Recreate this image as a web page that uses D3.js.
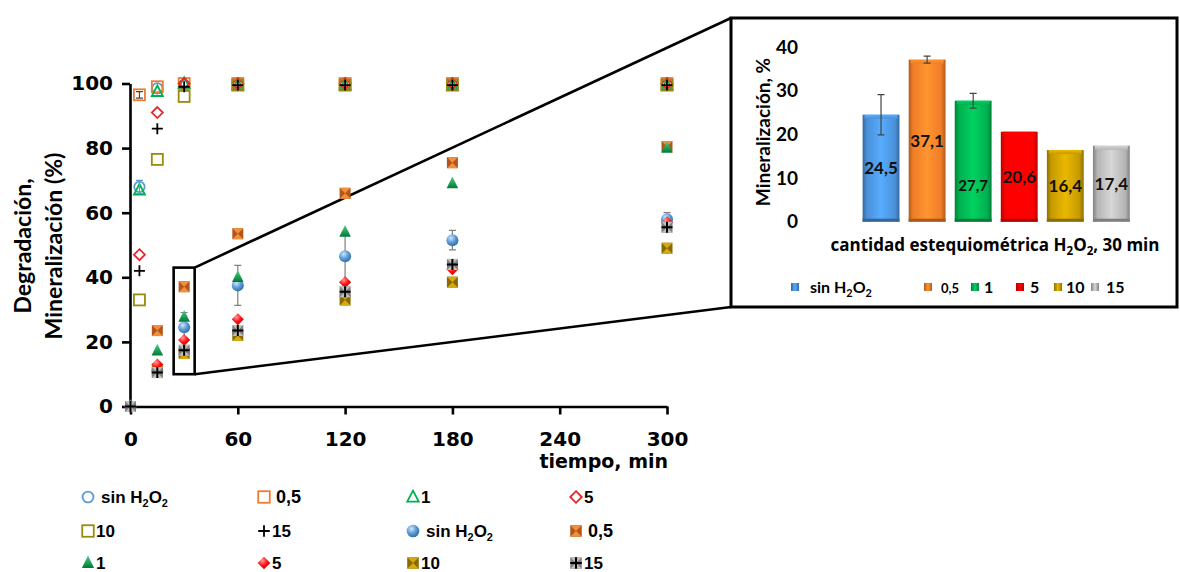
<!DOCTYPE html>
<html><head><meta charset="utf-8">
<script src="https://cdn.jsdelivr.net/npm/d3@7"></script>
<style>body{margin:0;background:#fff}svg{display:block}</style>
</head><body>
<svg id="c" width="1180" height="572"></svg>
<script>
// ---------- DATA ----------
const degTimes = [0, 5, 15, 30, 60, 120, 180, 300];
const degSin = [0, 68, 98.5, 99.5, 100, 100, 100, 100];
const degSinErr = [0, 2, 0, 0, 0, 0, 0, 0];
const deg05 = [0, 96.5, 99, 100, 100, 100, 100, 100];
const deg05Err = [0, 1, 0, 0, 0, 0, 0, 0];
const deg1 = [0, 67, 97.5, 100, 99.5, 99.5, 99.5, 99.5];
const deg5 = [0, 47, 91, 100, 100, 100, 100, 100];
const deg10 = [0, 33, 76.5, 96, 99.5, 99.5, 99.5, 99.5];
const deg15 = [0, 42, 86, 99, 99.5, 99.5, 99.5, 99.5];

const minTimes = [0, 15, 30, 60, 120, 180, 300];
const minSin = [0, 11, 24.5, 37.5, 46.5, 51.5, 58];
const minSinErr = [0, 0, 4.6, 6.2, 7.5, 3, 2];
const min05 = [0, 23.5, 37.1, 53.5, 66, 75.5, 80.5];
const min1 = [0, 17.2, 27.7, 40, 54, 69, 80];
const min5 = [0, 13, 20.6, 27, 38.5, 42.5, 57];
const min10 = [0, 11, 16.4, 22, 33, 38.5, 49];
const min15 = [0, 10.5, 17.4, 23.5, 35.5, 44, 55.5];

const xTicks = [0, 60, 120, 180, 240, 300];
const yTicks = [0, 20, 40, 60, 80, 100];

const barCats = ["sin H2O2", "0,5", "1", "5", "10", "15"];
const barVals = [24.5, 37.1, 27.7, 20.6, 16.4, 17.4];
const barErr = [4.6, 0.8, 1.7, 0, 0, 0];
const barTicks = [0, 10, 20, 30, 40];
const zoomTime = 30;
const zoomRange = [10, 43];

// ---------- SETUP ----------
const svg = d3.select("#c");
const defs = svg.append("defs");
const TICKF = "'DejaVu Sans', sans-serif";

function radial(id, c0, c1, c2) {
  const g = defs.append("radialGradient").attr("id", id).attr("cx", "38%").attr("cy", "32%").attr("r", "70%");
  g.append("stop").attr("offset", "0%").attr("stop-color", c0);
  g.append("stop").attr("offset", "55%").attr("stop-color", c1);
  g.append("stop").attr("offset", "100%").attr("stop-color", c2);
}
function linear(id, stops, horiz) {
  const g = defs.append("linearGradient").attr("id", id)
    .attr("x1", 0).attr("y1", 0).attr("x2", horiz ? 1 : 0).attr("y2", horiz ? 0 : 1);
  stops.forEach(s => g.append("stop").attr("offset", s[0]).attr("stop-color", s[1]));
}
radial("gSphere", "#cfe6fb", "#5b9bd5", "#2f6ea8");
linear("gTri", [["0%", "#4fd08a"], ["100%", "#007a33"]]);
radial("gDia", "#ff9a9a", "#ff1010", "#c00000");

const markerColors = {
  orange: ["#b3561a", "#f0903f"],
  gold: ["#8a6a00", "#d4aa10"],
  gray: ["#7f7f7f", "#c0c0c0"]
};

function drawMarker(g, type, cx, cy, s) {
  s = s || 1;
  const h = 5.5 * s;
  switch (type) {
    case "oCircle":
      g.append("circle").attr("cx", cx).attr("cy", cy).attr("r", 5.2 * s)
        .attr("fill", "none").attr("stroke", "#5b9bd5").attr("stroke-width", 1.8); break;
    case "oSq05":
    case "oSq10":
      g.append("rect").attr("x", cx - h).attr("y", cy - h).attr("width", 2 * h).attr("height", 2 * h)
        .attr("fill", "none").attr("stroke", type === "oSq05" ? "#ed7d31" : "#9a8a10").attr("stroke-width", 1.8); break;
    case "oTri":
      g.append("path").attr("d", `M${cx},${cy - h * 1.1}L${cx + h},${cy + h * 0.8}L${cx - h},${cy + h * 0.8}Z`)
        .attr("fill", "none").attr("stroke", "#00b050").attr("stroke-width", 1.8); break;
    case "oDia":
      g.append("path").attr("d", `M${cx},${cy - h}L${cx + h},${cy}L${cx},${cy + h}L${cx - h},${cy}Z`)
        .attr("fill", "none").attr("stroke", "#e8262c").attr("stroke-width", 1.8); break;
    case "plus":
      g.append("path").attr("d", `M${cx - h},${cy}H${cx + h}M${cx},${cy - h}V${cy + h}`)
        .attr("stroke", "#000").attr("stroke-width", 1.8); break;
    case "fSphere":
      g.append("circle").attr("cx", cx).attr("cy", cy).attr("r", 6 * s).attr("fill", "url(#gSphere)"); break;
    case "fTri":
      g.append("path").attr("d", `M${cx},${cy - h * 1.3}L${cx + h * 1.05},${cy + h * 0.85}L${cx - h * 1.05},${cy + h * 0.85}Z`)
        .attr("fill", "url(#gTri)"); break;
    case "fDia":
      g.append("path").attr("d", `M${cx},${cy - h * 1.1}L${cx + h * 1.1},${cy}L${cx},${cy + h * 1.1}L${cx - h * 1.1},${cy}Z`)
        .attr("fill", "url(#gDia)"); break;
    case "fSq05":
    case "fSq10":
    case "fSq15": {
      const c = markerColors[type === "fSq05" ? "orange" : type === "fSq10" ? "gold" : "gray"];
      g.append("rect").attr("x", cx - h).attr("y", cy - h).attr("width", 2 * h).attr("height", 2 * h).attr("fill", c[0]);
      g.append("path").attr("d", `M${cx - h},${cy - h}L${cx + h},${cy - h}L${cx},${cy}Z M${cx - h},${cy + h}L${cx + h},${cy + h}L${cx},${cy}Z`)
        .attr("fill", c[1]);
      if (type === "fSq15")
        g.append("path").attr("d", `M${cx - h},${cy}H${cx + h}M${cx},${cy - h}V${cy + h}`)
          .attr("stroke", "#000").attr("stroke-width", 2);
      break;
    }
  }
}

function subText(sel, str, baseSize) {
  const m = str.match(/(H)2(O)2/);
  if (!m) { sel.text(str); return sel; }
  const pre = str.slice(0, m.index), post = str.slice(m.index + m[0].length);
  const small = baseSize * 0.68;
  sel.append("tspan").text(pre + "H");
  sel.append("tspan").attr("font-size", small).attr("dy", baseSize * 0.25).text("2");
  sel.append("tspan").attr("dy", -baseSize * 0.25).text("O");
  sel.append("tspan").attr("font-size", small).attr("dy", baseSize * 0.25).text("2");
  sel.append("tspan").attr("dy", -baseSize * 0.25).text(post);
  return sel;
}

// ---------- MAIN CHART ----------
const x = d3.scaleLinear().domain([0, 300]).range([130.5, 667]);
const y = d3.scaleLinear().domain([0, 100]).range([406.5, 83.5]);

const main = svg.append("g");

const bx0 = x(zoomTime) - 10.5, bx1 = x(zoomTime) + 10.5;
const by0 = y(zoomRange[1]), by1 = y(zoomRange[0]);
const insetX = 731, insetY = 18, insetW = 446, insetH = 289;
main.append("line").attr("x1", bx1).attr("y1", by0).attr("x2", insetX).attr("y2", insetY)
  .attr("stroke", "#000").attr("stroke-width", 2.6);
main.append("line").attr("x1", bx1).attr("y1", by1).attr("x2", insetX).attr("y2", insetY + insetH)
  .attr("stroke", "#000").attr("stroke-width", 2.6);
main.append("rect").attr("x", bx0).attr("y", by0).attr("width", bx1 - bx0).attr("height", by1 - by0)
  .attr("fill", "none").attr("stroke", "#000").attr("stroke-width", 2.6);

const xAxis = main.append("g").attr("transform", "translate(0,406.5)")
  .call(d3.axisBottom(x).tickValues(xTicks).tickSize(8).tickSizeOuter(0).tickPadding(17).tickFormat(d3.format("d")));
const yAxis = main.append("g").attr("transform", "translate(130,0)")
  .call(d3.axisLeft(y).tickValues(yTicks).tickSize(8).tickSizeOuter(0).tickPadding(9).tickFormat(d3.format("d")));
[xAxis, yAxis].forEach(a => {
  a.selectAll("path,line").attr("stroke", "#000").attr("stroke-width", 2.6);
  a.selectAll("text").attr("font-family", TICKF).attr("font-weight", "bold").attr("font-size", 20).attr("fill", "#000");
});

main.append("text").attr("x", 668).attr("y", 468).attr("text-anchor", "end")
  .attr("font-family", TICKF).attr("font-weight", "bold").attr("font-size", 19).text("tiempo, min");

const yt = main.append("text").attr("transform", "translate(0,246) rotate(-90)")
  .attr("text-anchor", "middle").attr("font-family", "Lato, sans-serif").attr("font-weight", "bold").attr("font-size", 23);
yt.append("tspan").attr("x", 0).attr("y", 31).text("Degradación,");
yt.append("tspan").attr("x", 0).attr("y", 62).text("Mineralización (%)");

function errBars(times, vals, errs, color) {
  times.forEach((t, i) => {
    if (!errs[i]) return;
    const cx = x(t), ya = y(vals[i] + errs[i]), yb = y(vals[i] - errs[i]);
    main.append("path").attr("d", `M${cx},${ya}V${yb}M${cx - 3.5},${ya}H${cx + 3.5}M${cx - 3.5},${yb}H${cx + 3.5}`)
      .attr("stroke", color).attr("stroke-width", 1.2).attr("fill", "none");
  });
}

const degSeries = [
  { vals: degSin, type: "oCircle" },
  { vals: deg05, type: "oSq05" },
  { vals: deg1, type: "oTri" },
  { vals: deg5, type: "oDia" },
  { vals: deg10, type: "oSq10" },
  { vals: deg15, type: "plus" }
];
const minSeries = [
  { vals: min05, type: "fSq05" },
  { vals: minSin, type: "fSphere" },
  { vals: min1, type: "fTri" },
  { vals: min10, type: "fSq10" },
  { vals: min5, type: "fDia" },
  { vals: min15, type: "fSq15" }
];

degSeries.forEach(s => {
  const g = main.append("g");
  degTimes.forEach((t, i) => { if (t > 0) drawMarker(g, s.type, x(t), y(s.vals[i])); });
});
errBars(degTimes, degSin, degSinErr, "#5b9bd5");
errBars(degTimes, deg05, deg05Err, "#444");

errBars(minTimes, minSin, minSinErr, "#7f7f7f");
minSeries.forEach(s => {
  const g = main.append("g");
  minTimes.forEach((t, i) => drawMarker(g, s.type, x(t), y(s.vals[i])));
});

const legItems = [
  ["oCircle", "sin H2O2"], ["oSq05", "0,5"], ["oTri", "1"], ["oDia", "5"],
  ["oSq10", "10"], ["plus", "15"], ["fSphere", "sin H2O2"], ["fSq05", "0,5"],
  ["fTri", "1"], ["fDia", "5"], ["fSq10", "10"], ["fSq15", "15"]
];
const legCols = [88, 264, 413, 576], legRows = [497, 531, 563];
const leg = svg.append("g");
legItems.forEach((d, i) => {
  const cx = legCols[i % 4], cy = legRows[Math.floor(i / 4)];
  drawMarker(leg, d[0], cx, cy, 1.05);
  const gap = d[1].startsWith("sin") ? 13 : (d[1] === "0,5" ? 12 : 8);
  const t = leg.append("text").attr("x", cx + gap).attr("y", cy + 6)
    .attr("font-family", "'Liberation Sans', Arial, sans-serif").attr("font-weight", "bold")
    .attr("font-size", d[1] === "0,5" ? 18 : 17);
  subText(t, d[1], 16);
});

// ---------- INSET ----------
const ins = svg.append("g");
ins.append("rect").attr("x", insetX).attr("y", insetY).attr("width", insetW).attr("height", insetH)
  .attr("fill", "#fff").attr("stroke", "#000").attr("stroke-width", 3);

const bx = d3.scaleBand().domain(barCats).range([858, 1134.4]).paddingInner(0.2).paddingOuter(0.1);
const by = d3.scaleLinear().domain([0, 40]).range([221.7, 47]);

const barColors = ["#4a90d9", "#f07d28", "#00b050", "#ff0000", "#c59a00", "#b4b4b4"];
barColors.forEach((c, i) => {
  const dk = d3.color(c).darker(0.9).formatHex(), lt = d3.color(c).brighter(0.5).formatHex();
  linear("bar" + i, [["0%", dk], ["12%", c], ["50%", lt], ["88%", c], ["100%", dk]], true);
  linear("barTop" + i, [["0%", lt], ["100%", c]], false);
  linear("leg" + i, [["0%", dk], ["50%", lt], ["100%", dk]], true);
});

const insY = ins.append("g").attr("transform", "translate(798,0)")
  .call(d3.axisLeft(by).tickValues(barTicks).tickSize(0).tickPadding(0));
insY.select(".domain").remove();
insY.selectAll("text").attr("font-family", "Lato, sans-serif").attr("font-weight", "bold").attr("font-size", 19).attr("fill", "#000");

barVals.forEach((v, i) => {
  const x0 = bx(barCats[i]), w = bx.bandwidth(), y0 = by(v), h = by(0) - by(v);
  ins.append("rect").attr("x", x0).attr("y", y0).attr("width", w).attr("height", h).attr("fill", "url(#bar" + i + ")");
  ins.append("rect").attr("x", x0 + 2).attr("y", y0).attr("width", w - 4).attr("height", 4).attr("fill", "url(#barTop" + i + ")");
  ins.append("rect").attr("x", x0).attr("y", y0 + h - 3).attr("width", w).attr("height", 3)
    .attr("fill", d3.color(barColors[i]).darker(1).formatHex());
  if (barErr[i]) {
    const cx = x0 + w / 2, ya = by(v + barErr[i]), yb = by(v - barErr[i]);
    ins.append("path").attr("d", `M${cx},${ya}V${yb}M${cx - 3.5},${ya}H${cx + 3.5}M${cx - 3.5},${yb}H${cx + 3.5}`)
      .attr("stroke", "#444").attr("stroke-width", 1.2).attr("fill", "none");
  }
  const nudge = i === 2 ? 24 : 0;
  ins.append("text").attr("x", x0 + w / 2).attr("y", (by(v) + by(0)) / 2 + 6 + nudge)
    .attr("text-anchor", "middle").attr("font-family", "Lato, sans-serif").attr("font-weight", "bold")
    .attr("font-size", i === 2 ? 15 : 17).attr("fill", "#111").text(d3.format(".1f")(v).replace(".", ","));
});

const itx = ins.append("text").attr("x", 995).attr("y", 251).attr("text-anchor", "middle")
  .attr("font-family", "'Open Sans', sans-serif").attr("font-weight", "bold").attr("font-size", 17).attr("fill", "#000");
subText(itx, "cantidad estequiométrica H2O2, 30 min", 17);

ins.append("text").attr("transform", "translate(770,132) rotate(-90)").attr("text-anchor", "middle")
  .attr("font-family", "Lato, sans-serif").attr("font-weight", "bold").attr("font-size", 19).text("Mineralización, %");

const insLegX = [795, 928, 975, 1020, 1058, 1095];
const insLegGap = [15, 13, 9, 10, 8, 11];
barCats.forEach((c, i) => {
  const lx = insLegX[i], ly = 287;
  ins.append("rect").attr("x", lx - 4).attr("y", ly - 4).attr("width", 8).attr("height", 8).attr("fill", "url(#leg" + i + ")");
  const t = ins.append("text").attr("x", lx + insLegGap[i]).attr("y", ly + 6)
    .attr("font-family", "Lato, sans-serif").attr("font-weight", "bold")
    .attr("font-size", i === 1 ? 13 : 16).attr("fill", "#000");
  subText(t, c, 16);
});
</script>
</body></html>
